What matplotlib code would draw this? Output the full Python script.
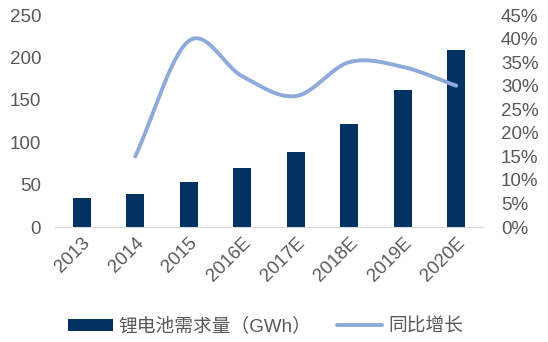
import numpy as np
import matplotlib
matplotlib.use("Agg")
import matplotlib.pyplot as plt
from matplotlib.ticker import FuncFormatter

plt.rcParams['font.family'] = ['Liberation Sans', 'Noto Sans CJK SC', 'DejaVu Sans']

categories = ["2013", "2014", "2015", "2016E", "2017E", "2018E", "2019E", "2020E"]
demand_gwh = [34, 39, 53, 70, 89, 122, 162, 209]
growth_cats = ["2014", "2015", "2016E", "2017E", "2018E", "2019E", "2020E"]
growth_pct = [15.0, 39.5, 32.0, 27.8, 35.0, 34.0, 30.0]

bar_color = "#003262"
line_color = "#8EAADB"
text_color = "#595959"

def catmull_rom(x, y, n=30):
    x = np.asarray(x, float); y = np.asarray(y, float)
    px = np.concatenate([[2*x[0]-x[1]], x, [2*x[-1]-x[-2]]])
    py = np.concatenate([[2*y[0]-y[1]], y, [2*y[-1]-y[-2]]])
    xs, ys = [], []
    for i in range(1, len(px)-2):
        t = np.linspace(0, 1, n, endpoint=(i == len(px)-3))
        for arr, out in ((px, xs), (py, ys)):
            p0, p1, p2, p3 = arr[i-1], arr[i], arr[i+1], arr[i+2]
            out.append(0.5*((2*p1) + (-p0+p2)*t + (2*p0-5*p1+4*p2-p3)*t**2 + (-p0+3*p1-3*p2+p3)*t**3))
    return np.concatenate(xs), np.concatenate(ys)

fs = 13.5
fig = plt.figure(figsize=(5.48, 3.42), dpi=100)
ax = fig.add_axes([0.1004, 0.336, 0.781, 0.62])
x = np.arange(len(categories))
ax.bar(x, demand_gwh, width=0.34, color=bar_color, label="锂电池需求量（GWh）", zorder=2)
ax.set_ylim(0, 250)
ax.set_yticks(range(0, 251, 50))
ax.set_xlim(-0.5, len(categories)-0.5)
ax.set_xticks(x)
ax.set_xticklabels(categories, rotation=45, ha='right', rotation_mode='anchor')
for s in ['top', 'right', 'left']:
    ax.spines[s].set_visible(False)
ax.spines['bottom'].set_color('#D9D9D9')
ax.tick_params(axis='both', length=0, labelsize=fs, colors=text_color, pad=10)
ax.tick_params(axis='x', pad=5)

ax2 = ax.twinx()
gx = [categories.index(c) for c in growth_cats]
sx, sy = catmull_rom(gx, growth_pct)
ax2.plot(sx, sy, color=line_color, lw=2.8, solid_capstyle='round', label="同比增长", zorder=3)
ax2.set_ylim(0, 45)
ax2.set_yticks(range(0, 46, 5))
ax2.yaxis.set_major_formatter(FuncFormatter(lambda v, p: f"{int(v)}%"))
for s in ax2.spines.values():
    s.set_visible(False)
ax2.tick_params(axis='y', length=0, labelsize=fs, colors=text_color, pad=13)

h1, l1 = ax.get_legend_handles_labels()
h2, l2 = ax2.get_legend_handles_labels()
fig.legend(h1 + h2, l1 + l2, loc='center', bbox_to_anchor=(0.484, 0.045), ncol=2,
           frameon=False, handlelength=2.4, handleheight=0.6,
           columnspacing=1.4, handletextpad=0.3, labelcolor=text_color,
           prop={'family': ['Liberation Sans', 'Noto Sans CJK SC'], 'size': fs})

fig.savefig("out.png", dpi=100)
